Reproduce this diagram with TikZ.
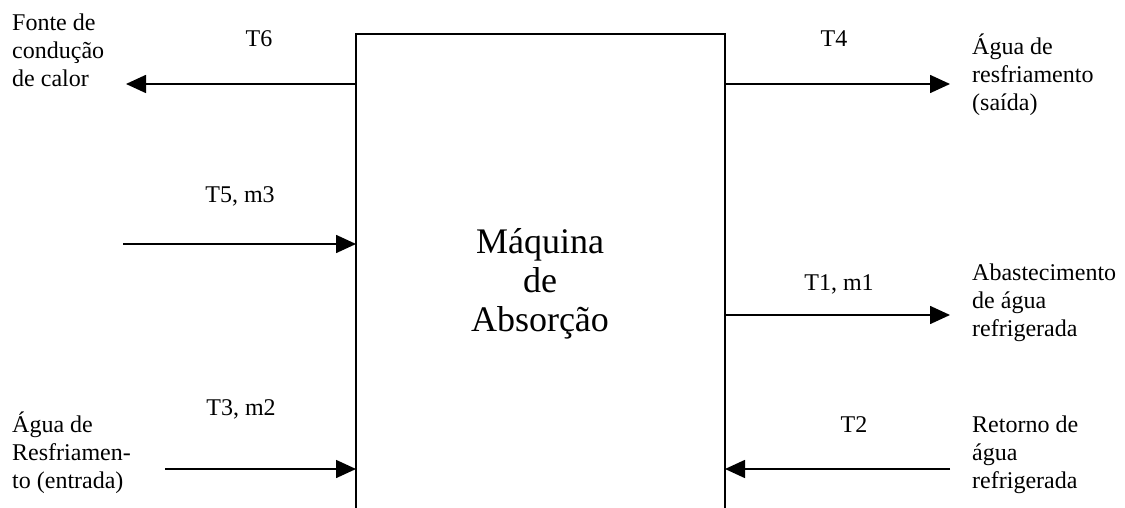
\documentclass[tikz,border=0pt]{standalone}
\usepackage{fontspec}
\setmainfont{Liberation Serif}
\usetikzlibrary{arrows.meta}
\begin{document}
\begin{tikzpicture}[x=1pt,y=-1pt,
  flow/.style={line width=1.6pt,-{Triangle[length=20pt,width=18pt]}},
  wall/.style={line width=1.6pt},
  side/.style={inner sep=0pt,align=left,anchor=base west,
    font=\fontsize{24}{28}\selectfont},
  tag/.style={inner sep=0pt,anchor=base,font=\fontsize{24}{28}\selectfont},
  core/.style={inner sep=0pt,align=center,anchor=base,
    font=\fontsize{36}{39}\selectfont}]
\useasboundingbox (0,0) rectangle (1125,508);

% open-bottomed machine outline
\coordinate (bl) at (356,508);
\coordinate (tl) at (356,34);
\coordinate (tr) at (725,34);
\coordinate (br) at (725,508);
\draw[wall] (bl) -- (tl) -- (tr) -- (br);
% multi-line nodes are placed by the baseline of their last line
\node[core] (mach) at (540,331) {Máquina\\de\\Absorção};

% ports on the machine walls
\coordinate (p6) at (356,84);
\coordinate (p5) at (356,244);
\coordinate (p3) at (356,469);
\coordinate (p4) at (725,84);
\coordinate (p1) at (725,315);
\coordinate (p2) at (725,469);

% outer ends of the flows
\coordinate (e6) at (126,84);
\coordinate (e5) at (123,244);
\coordinate (e3) at (165,469);
\coordinate (e4) at (950,84);
\coordinate (e1) at (950,315);
\coordinate (e2) at (950,469);

\draw[flow] (p6) -- (e6);
\draw[flow] (e5) -- (p5);
\draw[flow] (e3) -- (p3);
\draw[flow] (p4) -- (e4);
\draw[flow] (p1) -- (e1);
\draw[flow] (e2) -- (p2);

% stream labels
\node[tag] (t6) at (259,47) {T6};
\node[tag] (t5) at (240,202) {T5, m3};
\node[tag] (t3) at (241,415) {T3, m2};
\node[tag] (t4) at (834,47) {T4};
\node[tag] (t1) at (839,290) {T1, m1};
\node[tag] (t2) at (854,432) {T2};

% stream descriptions
\node[side] (heat) at (12,87) {Fonte de\\condução\\de calor};
\node[side] (cwin) at (12,488) {Água de\\Resfriamen-\\to (entrada)};
\node[side] (cwout) at (972,111) {Água de\\resfriamento\\(saída)};
\node[side] (chsup) at (972,336) {Abastecimento\\de água\\refrigerada};
\node[side] (chret) at (972,488) {Retorno de\\água\\refrigerada};
\end{tikzpicture}
\end{document}
